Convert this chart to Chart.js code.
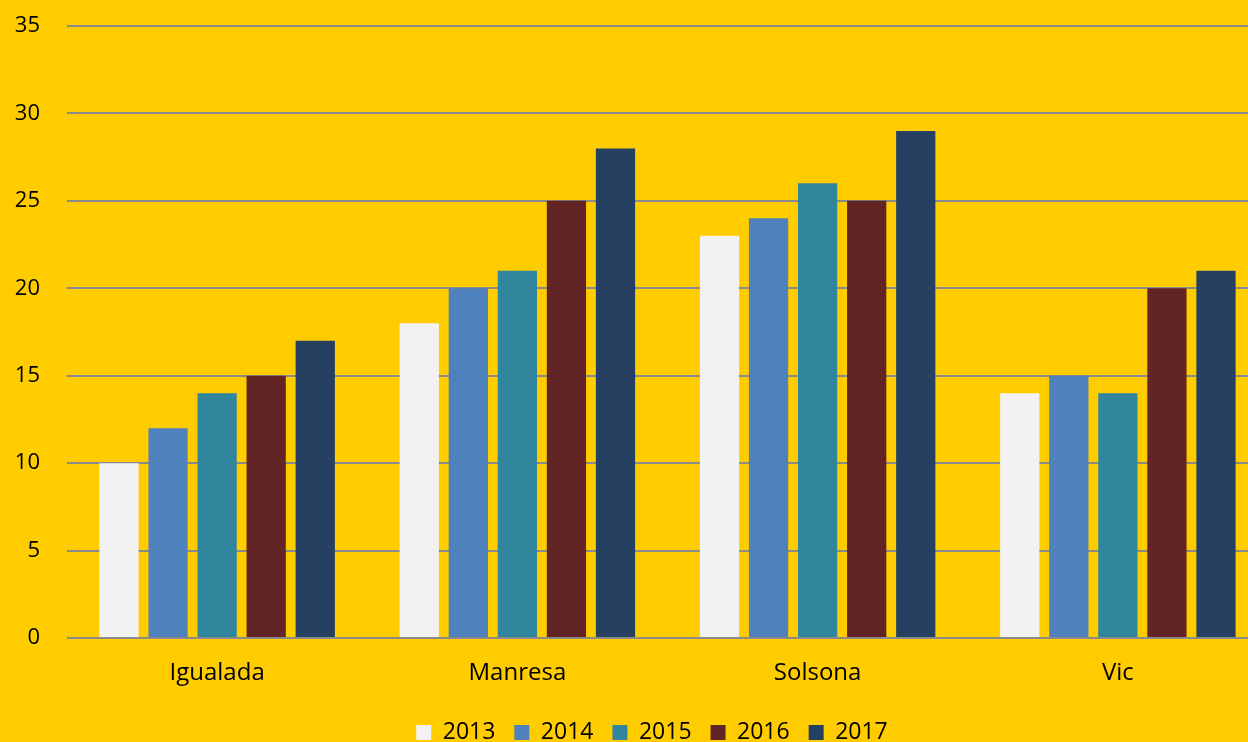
<!DOCTYPE html>
<html>
<head>
<meta charset="utf-8">
<script src="https://cdn.jsdelivr.net/npm/chart.js@4"></script>
<style>
html,body{margin:0;background:#FFCC00;width:1248px;height:742px;overflow:hidden;}
/* plot runs past the right edge in the original, so the canvas is a bit wider */
#wrap{width:1268px;height:742px;}
</style>
</head>
<body>
<div id="wrap"><canvas id="chart"></canvas></div>
<script>
// data
const towns = ["Igualada","Manresa","Solsona","Vic"]
const years = ["2013","2014","2015","2016","2017"]
const v2013 = [10,18,23,14]
const v2014 = [12,20,24,15]
const v2015 = [14,21,26,14]
const v2016 = [15,25,25,20]
const v2017 = [17,28,29,21]
const yTicks = [0,5,10,15,20,25,30,35]

const colors = ["#F2F2F2","#4F81BD","#31859C","#632523","#254061"]
const series = [v2013,v2014,v2015,v2016,v2017]

const fam = "'Open Sans', 'Liberation Sans', sans-serif"

// legend sits a little right of the canvas centre in the original
const legendShift = {
id:"legendShift",
afterLayout(c){ c.legend.left += 36 }
}

const chart = new Chart(document.getElementById("chart"),{
type:"bar",
data:{
labels:towns,
datasets:series.map((s,i)=>({
label:years[i],
data:s,
backgroundColor:colors[i],
categoryPercentage:0.817,
barPercentage:0.8
}))
},
options:{
responsive:true,
maintainAspectRatio:false,
animation:false,
layout:{padding:{top:26,right:0,left:0,bottom:-12}},
plugins:{
legend:{
position:"bottom",
labels:{color:"#000",font:{family:fam,size:23},boxWidth:15,boxHeight:15,padding:19}
},
tooltip:{enabled:false}
},
scales:{
x:{
grid:{display:false,drawTicks:false},
border:{display:false},
ticks:{color:"#000",font:{family:fam,size:24},padding:21},
afterFit:ax=>{ax.height=64}
},
y:{
min:0,max:35,
afterBuildTicks:ax=>{ax.ticks=yTicks.map(v=>({value:v}))},
grid:{color:"#8A8A8A",lineWidth:2,drawTicks:false},
border:{display:false},
ticks:{color:"#000",font:{family:fam,size:22},padding:27},
afterFit:ax=>{ax.width=67;ax.paddingTop=0;ax.paddingBottom=0}
}
}
},
plugins:[legendShift]
})
</script>
</body>
</html>
